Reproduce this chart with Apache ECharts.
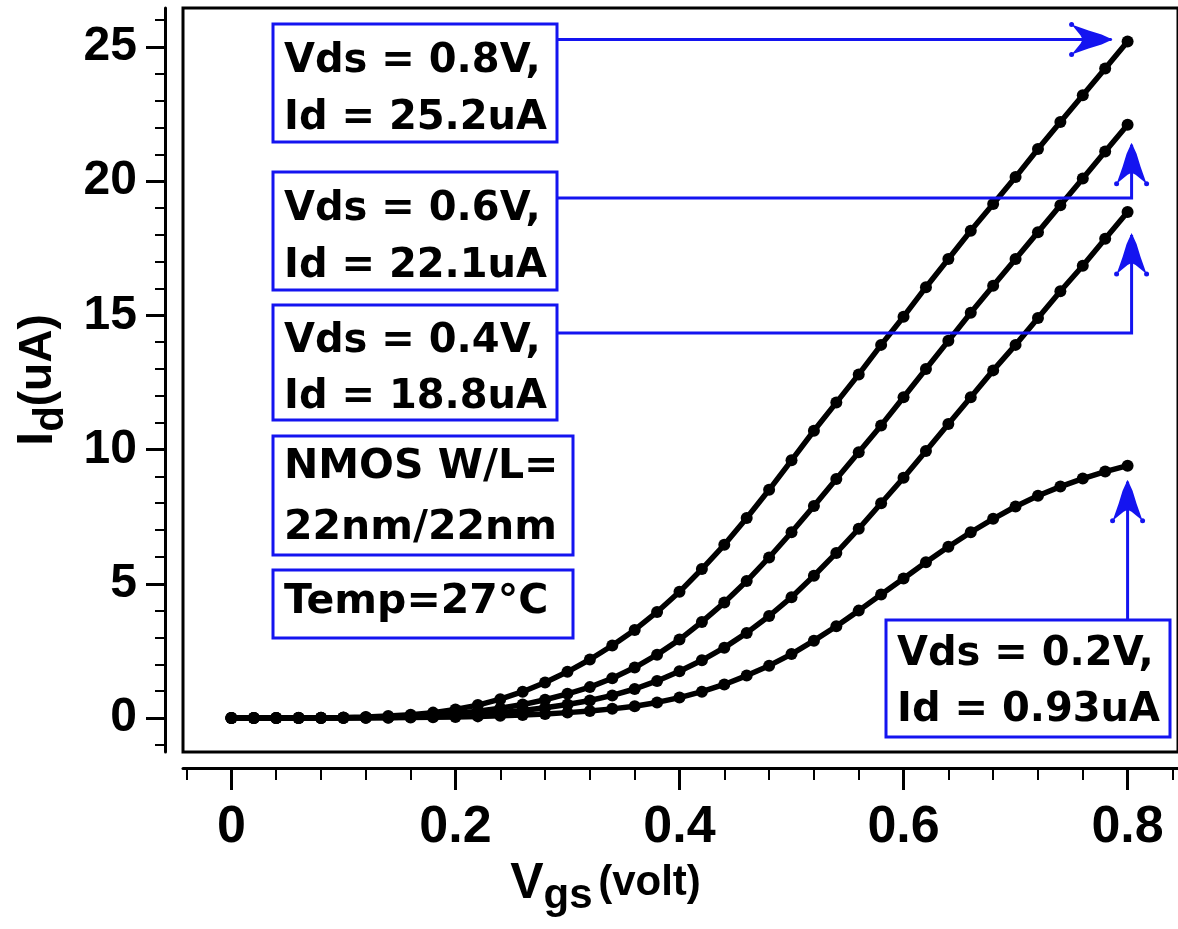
<!DOCTYPE html>
<html>
<head>
<meta charset="utf-8">
<script src="https://cdn.jsdelivr.net/npm/echarts@6/dist/echarts.min.js"></script>
<style>
  html, body { margin: 0; padding: 0; background: #fff; }
  #chart { width: 1178px; height: 929px; }
</style>
</head>
<body>
<div id="chart"></div>
<script>
// gate voltage sweep (V)
const vgs = [0, 0.02, 0.04, 0.06, 0.08, 0.10, 0.12, 0.14, 0.16, 0.18, 0.20,
  0.22, 0.24, 0.26, 0.28, 0.30, 0.32, 0.34, 0.36, 0.38, 0.40,
  0.42, 0.44, 0.46, 0.48, 0.50, 0.52, 0.54, 0.56, 0.58, 0.60,
  0.62, 0.64, 0.66, 0.68, 0.70, 0.72, 0.74, 0.76, 0.78, 0.80];

// drain current (uA) for each Vds
const idVds08 = [0, 0, 0, 0.01, 0.01, 0.02, 0.04, 0.07, 0.12, 0.2, 0.32,
  0.48, 0.7, 0.98, 1.32, 1.72, 2.18, 2.7, 3.28, 3.95, 4.7,
  5.55, 6.45, 7.45, 8.5, 9.6, 10.7, 11.75, 12.8, 13.9, 14.95,
  16.05, 17.1, 18.15, 19.15, 20.15, 21.2, 22.2, 23.2, 24.2, 25.2];
const idVds06 = [0, 0, 0, 0, 0.01, 0.01, 0.02, 0.04, 0.07, 0.11, 0.17,
  0.25, 0.36, 0.5, 0.68, 0.9, 1.15, 1.48, 1.88, 2.36, 2.92,
  3.58, 4.3, 5.1, 5.98, 6.92, 7.9, 8.9, 9.9, 10.9, 11.95,
  13.0, 14.05, 15.1, 16.1, 17.1, 18.1, 19.1, 20.1, 21.1, 22.1];
const idVds04 = [0, 0, 0, 0, 0, 0.01, 0.01, 0.02, 0.04, 0.06, 0.1,
  0.14, 0.2, 0.28, 0.38, 0.5, 0.65, 0.84, 1.08, 1.38, 1.74,
  2.15, 2.62, 3.17, 3.8, 4.5, 5.3, 6.15, 7.05, 8.0, 8.95,
  9.95, 10.95, 11.95, 12.95, 13.9, 14.9, 15.9, 16.85, 17.85, 18.85];
const idVds02 = [0, 0, 0, 0, 0, 0, 0.01, 0.01, 0.02, 0.03, 0.04,
  0.06, 0.08, 0.11, 0.15, 0.2, 0.26, 0.34, 0.44, 0.58, 0.76,
  0.98, 1.25, 1.58, 1.95, 2.38, 2.88, 3.42, 4.0, 4.6, 5.2,
  5.8, 6.38, 6.92, 7.42, 7.88, 8.28, 8.62, 8.92, 9.18, 9.4];

// tick values
const xMajorTicks = [0, 0.2, 0.4, 0.6, 0.8];
const xMinorTicks = [-0.04, 0.04, 0.08, 0.12, 0.16, 0.24, 0.28, 0.32, 0.36,
  0.44, 0.48, 0.52, 0.56, 0.64, 0.68, 0.72, 0.76, 0.84];
const yMajorTicks = [0, 5, 10, 15, 20, 25];
const yMinorTicks = [-1, 1, 2, 3, 4, 6, 7, 8, 9, 11, 12, 13, 14, 16, 17, 18, 19,
  21, 22, 23, 24, 26];

// annotation texts
const boxTexts = [
  ["Vds = 0.8V,", "Id = 25.2uA"],
  ["Vds = 0.6V,", "Id = 22.1uA"],
  ["Vds = 0.4V,", "Id = 18.8uA"],
  ["NMOS W/L=", "22nm/22nm"],
  ["Temp=27°C"],
  ["Vds = 0.2V,", "Id = 0.93uA"],
];

const BLUE = "#1414f0";
const TICK_FONT = '"Liberation Sans", Arial, sans-serif';
const BOX_FONT = '"DejaVu Sans", sans-serif';

const chart = echarts.init(document.getElementById("chart"));

function series(data) {
  return {
    type: "line",
    data: vgs.map((v, i) => [v, data[i]]),
    symbol: "circle",
    symbolSize: 12,
    showAllSymbol: true,
    itemStyle: { color: "#000" },
    lineStyle: { color: "#000", width: 5.5 },
    z: 5,
  };
}

const axisLineStyle = { color: "#000", width: 3 };

chart.setOption({
  animation: false,
  backgroundColor: "#fff",
  grid: {
    left: 183, top: 8, right: -12, bottom: 177,
    show: true, borderColor: "#000", borderWidth: 3,
  },
  xAxis: [{
    type: "value", min: -0.0432, max: 0.845, position: "bottom", offset: 16,
    axisLine: { show: true, onZero: false, lineStyle: axisLineStyle },
    axisTick: { show: true, customValues: xMajorTicks, length: 22, lineStyle: { color: "#000", width: 3 } },
    axisLabel: {
      customValues: xMajorTicks, margin: 34,
      formatter: (v) => (v === 0 ? "0" : v.toFixed(1)),
      fontFamily: TICK_FONT, fontWeight: "bold", fontSize: 52, color: "#000",
    },
    splitLine: { show: false },
    name: "{v|V}{s|gs}{sp| }{n|(volt)}",
    nameLocation: "middle", nameGap: 70,
    nameTextStyle: {
      padding: [0, 150, 0, 0],
      rich: {
        v: { fontFamily: TICK_FONT, fontWeight: "bold", fontSize: 50, color: "#000" },
        s: { fontFamily: TICK_FONT, fontWeight: "bold", fontSize: 42, color: "#000", padding: [26, 0, 0, 0] },
        sp: { fontSize: 20 },
        n: { fontFamily: TICK_FONT, fontWeight: "bold", fontSize: 42, color: "#000" },
      },
    },
  }, {
    type: "value", min: -0.0432, max: 0.845, position: "bottom", offset: 16,
    axisLine: { show: false, onZero: false },
    axisTick: { show: true, customValues: xMinorTicks, length: 12, lineStyle: { color: "#000", width: 2 } },
    axisLabel: { show: false },
    splitLine: { show: false },
  }],
  yAxis: [{
    type: "value", min: -1.267, max: 26.45, position: "left", offset: 18,
    axisLine: { show: true, onZero: false, lineStyle: axisLineStyle },
    axisTick: { show: true, customValues: yMajorTicks, length: 19, lineStyle: { color: "#000", width: 3 } },
    axisLabel: {
      customValues: yMajorTicks, margin: 28,
      fontFamily: TICK_FONT, fontWeight: "bold", fontSize: 48, color: "#000",
    },
    splitLine: { show: false },
    name: "{i|I}{s|d}{n|(uA)}",
    nameLocation: "middle", nameGap: 85,
    nameTextStyle: {
      rich: {
        i: { fontFamily: TICK_FONT, fontWeight: "bold", fontSize: 50, color: "#000" },
        s: { fontFamily: TICK_FONT, fontWeight: "bold", fontSize: 42, color: "#000", padding: [26, 0, 0, 0] },
        n: { fontFamily: TICK_FONT, fontWeight: "bold", fontSize: 46, color: "#000" },
      },
    },
  }, {
    type: "value", min: -1.267, max: 26.45, position: "left", offset: 18,
    axisLine: { show: false, onZero: false },
    axisTick: { show: true, customValues: yMinorTicks, length: 10, lineStyle: { color: "#000", width: 2 } },
    axisLabel: { show: false },
    splitLine: { show: false },
  }],
  series: [series(idVds02), series(idVds04), series(idVds06), series(idVds08)],
});

// --- annotation boxes and arrows ---
function arrowHead(tx, ty, dir) {
  // shape drawn pointing up, then rotated for "right"
  const shape = [[0, 0], [5, 11], [9, 24], [15, 41], [4, 32], [0, 30], [-4, 32], [-15, 41], [-9, 24], [-5, 11]];
  const pts = shape.map(([dx, dy]) => (dir === "up" ? [tx + dx, ty + dy] : [tx - dy, ty + dx]));
  const dots = dir === "up"
    ? [[tx - 15, ty + 41], [tx + 15, ty + 41]]
    : [[tx - 41, ty - 15], [tx - 41, ty + 15]];
  return [
    { type: "polygon", shape: { points: pts }, style: { fill: BLUE }, z: 20 },
    ...dots.map(([x, y]) => ({ type: "circle", shape: { cx: x, cy: y, r: 2.5 }, style: { fill: BLUE }, z: 20 })),
  ];
}

function box(x, y, w, h, lines, lineYs, size) {
  const els = [{
    type: "rect", shape: { x, y, width: w, height: h },
    style: { fill: "#fff", stroke: BLUE, lineWidth: 3 }, z: 10,
  }];
  lines.forEach((t, i) => {
    els.push({
      type: "text", x: x + 11, y: lineYs[i], z: 11,
      style: { text: t, fill: "#000", font: `bold ${size}px ${BOX_FONT}`, textVerticalAlign: "middle" },
    });
  });
  return els;
}

const end = (arr) => chart.convertToPixel({ xAxisIndex: 0, yAxisIndex: 0 }, [vgs[vgs.length - 1], arr[arr.length - 1]]);
const p08 = end(idVds08), p06 = end(idVds06), p04 = end(idVds04), p02 = end(idVds02);

const line = (pts) => ({ type: "polyline", shape: { points: pts }, style: { stroke: BLUE, lineWidth: 3, fill: null }, z: 9 });

const graphics = [
  line([[557, p08[1] - 2], [p08[0] - 16, p08[1] - 2]]),
  ...arrowHead(p08[0] - 15, p08[1] - 2, "right"),
  line([[557, 198], [p06[0] + 4, 198], [p06[0] + 4, p06[1] + 20]]),
  ...arrowHead(p06[0] + 4, p06[1] + 18, "up"),
  line([[557, 333], [p04[0] + 4, 333], [p04[0] + 4, p04[1] + 23]]),
  ...arrowHead(p04[0] + 4, p04[1] + 21, "up"),
  line([[p02[0], 620], [p02[0], p02[1] + 16]]),
  ...arrowHead(p02[0], p02[1] + 14, "up"),
  ...box(273, 24, 284, 118, boxTexts[0], [62, 119], 40),
  ...box(273, 172, 284, 118, boxTexts[1], [210, 267], 40),
  ...box(273, 305, 284, 115, boxTexts[2], [342, 398], 40),
  ...box(273, 436, 300, 119, boxTexts[3], [467, 528], 41),
  ...box(273, 570, 300, 68, boxTexts[4], [602], 41),
  ...box(886, 620, 284, 117, boxTexts[5], [655, 711], 40),
];

chart.setOption({ graphic: graphics });
</script>
</body>
</html>
